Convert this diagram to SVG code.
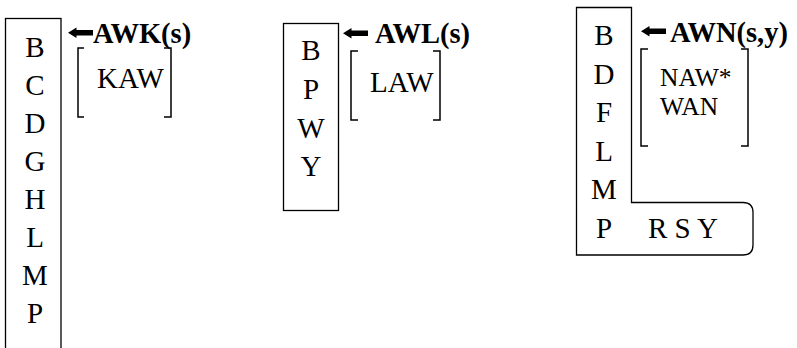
<svg xmlns="http://www.w3.org/2000/svg" width="797" height="348" viewBox="0 0 797 348">
<style>
.box{fill:none;stroke:#000;stroke-width:1.3}
.br{fill:none;stroke:#000;stroke-width:1.5}
.c{text-anchor:middle}
.b{font-weight:bold;font-size:28.5px}
</style>
<defs>
<polygon id="arr" points="0,5.25 8.5,0 8.5,2.5 25,2.5 25,8 8.5,8 8.5,10.5" fill="#000"/>
</defs>
<rect width="797" height="348" fill="#fff"/>
<g font-family="Liberation Serif, Times New Roman, serif" font-size="29" fill="#000">
<g id="node-awk">
<rect class="box" x="5.5" y="18.5" width="55.5" height="345"/>
<text class="c" x="35" y="57">B</text>
<text class="c" x="35" y="95">C</text>
<text class="c" x="35" y="133">D</text>
<text class="c" x="35" y="171">G</text>
<text class="c" x="35" y="209">H</text>
<text class="c" x="35" y="247">L</text>
<text class="c" x="35" y="285">M</text>
<text class="c" x="35" y="323">P</text>
<text class="b" x="93" y="43">AWK(s)</text>
<path class="br" d="M84,48H78V117H84M164,48H171V117H164"/>
<text x="97" y="88">KAW</text>
</g>
<g id="node-awl">
<rect class="box" x="283.5" y="23.5" width="55" height="187"/>
<text class="c" x="311" y="60">B</text>
<text class="c" x="311" y="99">P</text>
<text class="c" x="311" y="138">W</text>
<text class="c" x="311" y="176">Y</text>
<text class="b" x="375" y="43">AWL(s)</text>
<path class="br" d="M358,51H351V120H358M433,51H440V120H433"/>
<text x="370" y="92">LAW</text>
</g>
<g id="node-awn">
<path class="box" d="M576.5,7.5H631.5V202.5H743Q753,202.5 753,212.5V245Q753,255 743,255H576.5Z"/>
<text class="c" x="604" y="45">B</text>
<text class="c" x="604" y="83.5">D</text>
<text class="c" x="604" y="122">F</text>
<text class="c" x="604" y="160.5">L</text>
<text class="c" x="604" y="199">M</text>
<text class="c" x="604" y="238">P</text>
<text class="b" x="670" y="42">AWN(s,y)</text>
<path class="br" d="M648,49H641V146H648M741,49H748V146H741"/>
<text x="660" y="86" font-size="25.5">NAW*</text>
<text x="660" y="114.5" font-size="25.5">WAN</text>
<text x="648" y="238" xml:space="preserve">R S Y</text>
</g>
</g>
<g id="connectors">
<use href="#arr" x="68" y="27.5"/>
<use href="#arr" x="343" y="28"/>
<use href="#arr" x="641" y="26"/>
</g>
</svg>
